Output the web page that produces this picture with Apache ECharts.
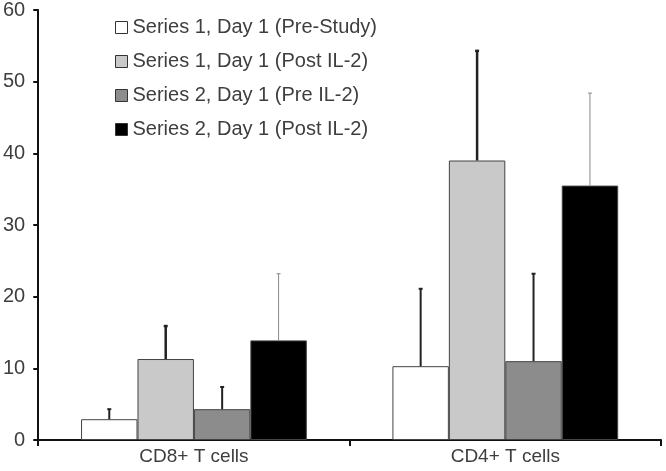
<!DOCTYPE html>
<html>
<head>
<meta charset="UTF-8">
<title>T cells</title>
<script src="https://cdn.jsdelivr.net/npm/echarts@6/dist/echarts.min.js"></script>
</head>
<body style="margin:0;background:#fff">
<div id="main" style="width:666px;height:471px;"></div>
<script>
// data
var categories = ['CD8+ T cells', 'CD4+ T cells'];
var seriesNames = ['Series 1, Day 1 (Pre-Study)', 'Series 1, Day 1 (Post IL-2)',
                   'Series 2, Day 1 (Pre IL-2)', 'Series 2, Day 1 (Post IL-2)'];
var means = [[2.9, 10.3], [11.3, 39.0], [4.3, 11.0], [13.9, 35.5]];
var upper = [[4.3, 21.1], [15.9, 54.3], [7.4, 23.2], [23.2, 48.4]];

var colors = ['#ffffff', '#c9c9c9', '#8c8c8c', '#000000'];
var errColors = ['#222', '#222', '#222', '#888'];
var errWidths = [2, 2.5, 2, 1];
var CAT_GAP = 0.275;

var chart = echarts.init(document.getElementById('main'));

var series = [];
for (var i = 0; i < 4; i++) {
	series.push({
		name: seriesNames[i],
		type: 'bar',
		barGap: '0%',
		barCategoryGap: (CAT_GAP * 100) + '%',
		itemStyle: { color: colors[i], borderColor: '#444', borderWidth: 1 },
		data: means[i]
	});
}
for (var k = 0; k < 4; k++) {
	(function (s) {
		var d = [];
		for (var c = 0; c < categories.length; c++) d.push([c, means[s][c], upper[s][c]]);
		series.push({
			type: 'custom',
			z: 5,
			silent: true,
			data: d,
			renderItem: function (params, api) {
				var catW = api.size([1, 0])[0];
				var bw = catW * (1 - CAT_GAP) / 4;
				var off = (s - 1.5) * bw;
				var lo = api.coord([api.value(0), api.value(1)]);
				var hi = api.coord([api.value(0), api.value(2)]);
				var x = lo[0] + off;
				var st = { stroke: errColors[s], lineWidth: errWidths[s] };
				return {
					type: 'group',
					children: [
						{ type: 'line', shape: { x1: x, y1: lo[1], x2: x, y2: hi[1] }, style: st },
						{ type: 'line', shape: { x1: x - 2, y1: hi[1], x2: x + 2, y2: hi[1] }, style: st }
					]
				};
			}
		});
	})(k);
}

var option = {
	animation: false,
	textStyle: { fontFamily: 'Liberation Sans, Arial, sans-serif' },
	legend: {
		orient: 'vertical',
		left: 110,
		top: 11,
		itemWidth: 12,
		itemHeight: 12,
		itemGap: 11,
		icon: 'rect',
		data: seriesNames,
		itemStyle: { borderColor: '#333', borderWidth: 1 },
		textStyle: { fontSize: 20, color: '#3e3e3e', lineHeight: 23 }
	},
	grid: { left: 37, right: 5, top: 8, bottom: 31 },
	xAxis: {
		type: 'category',
		data: categories,
		axisLine: { lineStyle: { color: '#111', width: 2 } },
		axisTick: { show: true, length: 6, lineStyle: { color: '#111', width: 2 } },
		axisLabel: { fontSize: 19, color: '#3e3e3e', margin: 7 }
	},
	yAxis: {
		type: 'value',
		min: 0,
		max: 60,
		interval: 10,
		splitLine: { show: false },
		axisLine: { show: true, lineStyle: { color: '#111', width: 2 } },
		axisTick: { show: true, length: 5, lineStyle: { color: '#111', width: 2 } },
		axisLabel: { fontSize: 20, color: '#3e3e3e', margin: 13 }
	},
	series: series
};

chart.setOption(option);
</script>
</body>
</html>
